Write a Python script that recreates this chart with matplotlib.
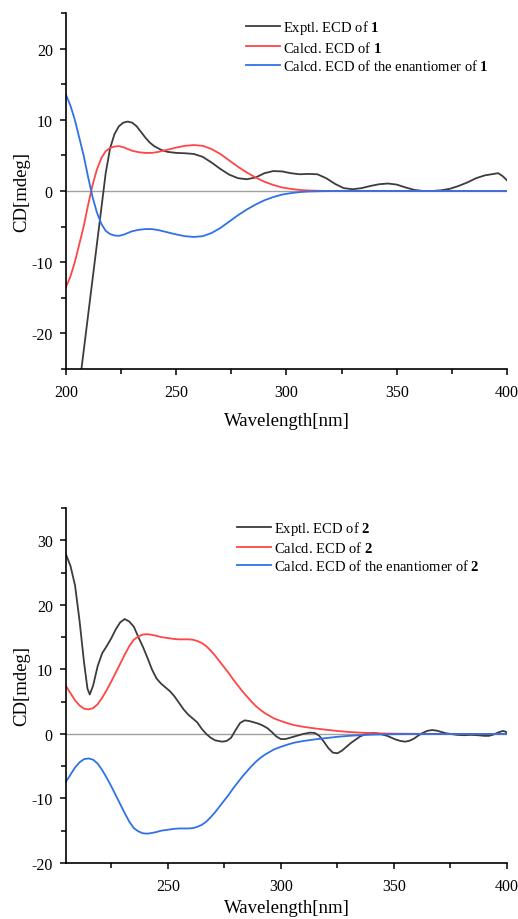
import numpy as np
import matplotlib
matplotlib.use('Agg')
import matplotlib.pyplot as plt
from matplotlib.ticker import MultipleLocator

plt.rcParams['font.family'] = ['Liberation Serif', 'DejaVu Serif']
plt.rcParams['mathtext.fontset'] = 'custom'
plt.rcParams['mathtext.rm'] = 'Liberation Serif'
plt.rcParams['mathtext.bf'] = 'Liberation Serif:bold'
plt.rcParams['axes.unicode_minus'] = False

# ---- compound 1 ----
wl_exp1 = [200, 207, 210, 213, 216, 218, 220, 222, 224, 226, 228, 230, 232,
           234, 236, 238, 240, 243, 246, 250, 254, 258, 262, 266, 270, 274,
           278, 282, 286, 290, 294, 298, 302, 306, 310, 314, 318, 322, 326,
           330, 334, 338, 342, 346, 350, 354, 358, 362, 366, 370, 374, 378,
           382, 386, 390, 394, 396, 398, 400]
cd_exp1 = [-42, -25, -17.5, -10, -2.5, 2.5, 6.0, 8.0, 9.1, 9.6, 9.75, 9.6,
           9.1, 8.3, 7.5, 6.8, 6.3, 5.8, 5.5, 5.35, 5.3, 5.2, 4.8, 4.0, 3.1,
           2.3, 1.8, 1.65, 1.9, 2.5, 2.8, 2.75, 2.5, 2.35, 2.4, 2.35, 1.8,
           1.0, 0.4, 0.25, 0.4, 0.7, 0.95, 1.05, 0.9, 0.5, 0.15, 0.0, 0.0,
           0.1, 0.3, 0.7, 1.2, 1.8, 2.2, 2.4, 2.5, 2.1, 1.5]

wl_calc1 = [200, 202, 204, 206, 208, 210, 212, 214, 216, 218, 220, 222, 224,
            226, 228, 230, 233, 236, 239, 242, 246, 250, 254, 258, 262, 266,
            270, 274, 278, 282, 286, 290, 294, 298, 302, 306, 310, 315, 320,
            400]
cd_calc1 = [-13.5, -12.0, -10.0, -7.5, -5.0, -2.0, 0.8, 3.0, 4.6, 5.6, 6.05,
            6.25, 6.3, 6.15, 5.9, 5.65, 5.45, 5.35, 5.35, 5.5, 5.8, 6.1, 6.35,
            6.45, 6.35, 5.9, 5.2, 4.3, 3.4, 2.6, 1.9, 1.3, 0.85, 0.5, 0.3,
            0.15, 0.07, 0.03, 0.0, 0.0]
cd_enan1 = [13.5, 12.0, 10.0, 7.5, 5.0, 2.0, -0.8, -3.0, -4.6, -5.6, -6.05,
            -6.25, -6.3, -6.15, -5.9, -5.65, -5.45, -5.35, -5.35, -5.5, -5.8,
            -6.1, -6.35, -6.45, -6.35, -5.9, -5.2, -4.3, -3.4, -2.6, -1.9,
            -1.3, -0.85, -0.5, -0.3, -0.15, -0.07, -0.03, 0.0, 0.0]

# ---- compound 2 ----
wl_exp2 = [205, 207, 209, 211, 213, 214.5, 215.5, 217, 219, 221, 223, 225,
           227, 229, 231, 233, 235, 237, 239, 241, 243, 245, 247, 249, 251,
           253, 255, 257, 259, 261, 263, 265, 267, 269, 271, 274, 276, 278,
           280, 282, 284, 286, 288, 290, 292, 294, 296, 298, 300, 302, 304,
           307, 310, 313, 315, 317, 319, 321, 323, 325, 327, 329, 331, 333,
           335, 337, 339, 341, 343, 345, 347, 349, 351, 353, 355, 357, 359,
           361, 363, 365, 367, 369, 371, 373, 375, 378, 381, 384, 387, 390,
           392, 394, 396, 398, 399, 400]
cd_exp2 = [27.8, 26.0, 23.0, 17.5, 11.0, 7.0, 6.1, 7.5, 10.5, 12.5, 13.6,
           14.8, 16.2, 17.3, 17.8, 17.4, 16.6, 15.0, 13.5, 11.8, 10.0, 8.6,
           7.8, 7.2, 6.6, 5.8, 4.8, 3.8, 3.0, 2.4, 1.8, 0.8, 0.0, -0.6, -1.0,
           -1.2, -1.1, -0.6, 0.6, 1.7, 2.1, 2.0, 1.8, 1.6, 1.3, 0.9, 0.3,
           -0.4, -0.8, -0.8, -0.6, -0.3, 0.0, 0.2, 0.15, -0.3, -1.2, -2.2,
           -2.9, -3.0, -2.6, -2.0, -1.4, -0.9, -0.4, -0.1, 0.1, 0.15, 0.05,
           -0.1, -0.3, -0.6, -0.9, -1.1, -1.2, -1.05, -0.7, -0.2, 0.2, 0.5,
           0.6, 0.5, 0.3, 0.1, 0.0, -0.15, -0.2, -0.15, -0.2, -0.3, -0.3,
           -0.1, 0.2, 0.45, 0.4, 0.2]

wl_calc2 = [205, 207, 209, 211, 213, 215, 217, 219, 221, 223, 225, 227, 229,
            231, 233, 235, 237, 239, 241, 243, 245, 247, 249, 251, 253, 255,
            257, 259, 261, 263, 265, 267, 269, 271, 273, 275, 277, 279, 281,
            283, 285, 287, 289, 291, 293, 295, 297, 300, 303, 306, 310, 315,
            320, 325, 330, 335, 340, 345, 350, 360, 370, 400]
cd_calc2 = [7.4, 6.3, 5.2, 4.4, 3.9, 3.8, 4.0, 4.6, 5.6, 6.8, 8.1, 9.5, 10.9,
            12.3, 13.6, 14.6, 15.1, 15.4, 15.45, 15.35, 15.2, 15.0, 14.9, 14.8,
            14.7, 14.65, 14.65, 14.65, 14.6, 14.4, 14.1, 13.6, 12.9, 12.1,
            11.2, 10.3, 9.4, 8.4, 7.5, 6.6, 5.8, 5.0, 4.3, 3.7, 3.2, 2.8, 2.4,
            2.0, 1.65, 1.35, 1.1, 0.85, 0.65, 0.45, 0.3, 0.2, 0.12, 0.07, 0.04,
            0.02, 0.0, 0.0]
cd_enan2 = [-7.4, -6.3, -5.2, -4.4, -3.9, -3.8, -4.0, -4.6, -5.6, -6.8, -8.1,
            -9.5, -10.9, -12.3, -13.6, -14.6, -15.1, -15.4, -15.45, -15.35,
            -15.2, -15.0, -14.9, -14.8, -14.7, -14.65, -14.65, -14.65, -14.6,
            -14.4, -14.1, -13.6, -12.9, -12.1, -11.2, -10.3, -9.4, -8.4, -7.5,
            -6.6, -5.8, -5.0, -4.3, -3.7, -3.2, -2.8, -2.4, -2.0, -1.65,
            -1.35, -1.1, -0.85, -0.65, -0.45, -0.3, -0.2, -0.12, -0.07, -0.04,
            -0.02, 0.0, 0.0]

C_EXP = '#3c3c3c'
C_CALC = '#ff4545'
C_ENAN = '#2f72e6'

fig = plt.figure(figsize=(5.18, 9.2), dpi=100)
ax1 = fig.add_axes([66 / 518, 1 - 370 / 920, 441 / 518, 356 / 920])
ax2 = fig.add_axes([66 / 518, 1 - 864 / 920, 441 / 518, 355 / 920])


def style_axis(ax, xlim, ylim, legend_x, legend_y, xlabelpad):
    ax.axhline(0, color='#a0a0a0', lw=1.0, zorder=1)
    ax.set_xlim(*xlim)
    ax.set_ylim(*ylim)
    ax.xaxis.set_major_locator(MultipleLocator(50))
    ax.xaxis.set_minor_locator(MultipleLocator(25))
    ax.yaxis.set_major_locator(MultipleLocator(10))
    ax.yaxis.set_minor_locator(MultipleLocator(5))
    for s in ['top', 'right']:
        ax.spines[s].set_visible(False)
    for s in ['left', 'bottom']:
        ax.spines[s].set_linewidth(1.2)
    ax.tick_params(which='major', direction='out', length=4, width=1.1,
                   labelsize=11.5)
    ax.tick_params(axis='x', which='major', pad=6.5)
    ax.tick_params(axis='y', which='major', pad=5.5)
    ax.tick_params(which='minor', direction='out', length=3.5, width=1.1)
    ax.set_xlabel('Wavelength[nm]', fontsize=13.5, labelpad=xlabelpad)
    ax.set_ylabel('CD[mdeg]', fontsize=13.5, labelpad=1)
    ax.legend(loc='upper left', bbox_to_anchor=(legend_x, legend_y),
              frameon=False, fontsize=10.5, handlelength=2.35,
              handletextpad=0.2, labelspacing=0.22, borderpad=0,
              borderaxespad=0)


ax1.plot(wl_exp1, cd_exp1, color=C_EXP, lw=1.3, label=r'Exptl. ECD of $\mathbf{1}$')
ax1.plot(wl_calc1, cd_calc1, color=C_CALC, lw=1.3, label=r'Calcd. ECD of $\mathbf{1}$')
ax1.plot(wl_calc1, cd_enan1, color=C_ENAN, lw=1.3,
         label=r'Calcd. ECD of the enantiomer of $\mathbf{1}$')
style_axis(ax1, (200, 400), (-25, 25), 0.408, 0.985, 9)

ax2.plot(wl_exp2, cd_exp2, color=C_EXP, lw=1.3, label=r'Exptl. ECD of $\mathbf{2}$')
ax2.plot(wl_calc2, cd_calc2, color=C_CALC, lw=1.3, label=r'Calcd. ECD of $\mathbf{2}$')
ax2.plot(wl_calc2, cd_enan2, color=C_ENAN, lw=1.3,
         label=r'Calcd. ECD of the enantiomer of $\mathbf{2}$')
style_axis(ax2, (205, 400), (-20, 35), 0.387, 0.97, 4)

fig.savefig('out.png', dpi=100)
